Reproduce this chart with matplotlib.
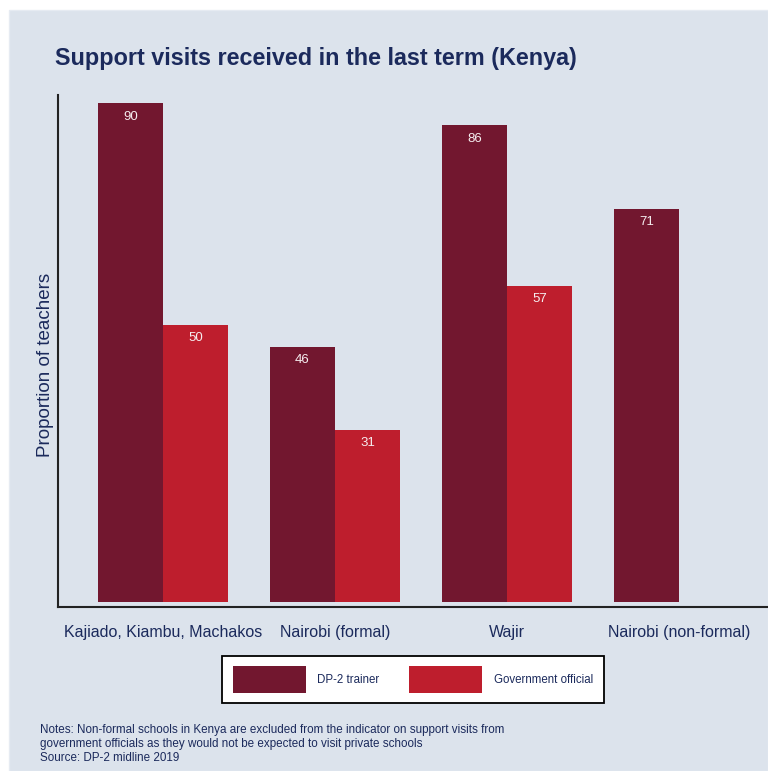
import matplotlib
matplotlib.use('Agg')
import matplotlib.pyplot as plt
from matplotlib.patches import Rectangle
import numpy as np

plt.rcParams['font.family'] = ['Liberation Sans', 'DejaVu Sans']

regions = ['Kajiado, Kiambu, Machakos', 'Nairobi (formal)', 'Wajir', 'Nairobi (non-formal)']
dp2_trainer = [90, 46, 86, 71]
gov_official = [50, 31, 57, None]
series_names = ['DP-2 trainer', 'Government official']

navy = '#1b2a5c'
c_dp = '#72172f'
c_gov = '#be1e2d'
bg = '#dce3ec'

fig = plt.figure(figsize=(7.68, 7.71), dpi=100, facecolor='white')
fig.patches.append(Rectangle((9/768, 0), 1 - 9/768, 1 - 10/771, transform=fig.transFigure,
                             facecolor=bg, edgecolor='#e6ebf2', lw=1, zorder=-10))

ax = fig.add_axes([58/768, 1 - 607/771, 1 - 58/768, (607 - 95)/771])
ax.set_facecolor('none')

x = np.arange(1, len(regions) + 1)
w = 0.377
gx = [xi for xi, v in zip(x, gov_official) if v is not None]
gv = [v for v in gov_official if v is not None]
b1 = ax.bar(x - w/2, dp2_trainer, w, color=c_dp, label=series_names[0])
b2 = ax.bar(np.array(gx) + w/2, gv, w, color=c_gov, label=series_names[1])

for bars in (b1, b2):
    for r in bars:
        ax.annotate(f'{r.get_height():g}', (r.get_x() + r.get_width()/2, r.get_height()),
                    xytext=(0, -9.5), textcoords='offset points', ha='center', va='center',
                    color='#f6eef0', fontsize=9.5)

ax.set_xlim(0.39, 4.517)
ax.set_ylim(-0.9, 91.5)
ax.set_xticks(x)
ax.set_xticklabels(regions, fontsize=11.5, color=navy)
ax.tick_params(axis='x', length=0, pad=13)
ax.set_yticks([])
for s in ['top', 'right']:
    ax.spines[s].set_visible(False)
for s in ['left', 'bottom']:
    ax.spines[s].set_linewidth(1.5)
    ax.spines[s].set_color('#222222')

fig.text(46/768, 1 - 365/771, 'Proportion of teachers', rotation=90, ha='center', va='center',
         fontsize=13.5, color=navy)

fig.text(55/768, 1 - 58/771, 'Support visits received in the last term (Kenya)',
         ha='left', va='center', fontsize=16.8, fontweight='bold', color=navy)

leg = fig.legend(handles=[b1, b2], labels=series_names, loc='center',
                 bbox_to_anchor=(413/768, 1 - 679.5/771), ncol=2, frameon=True,
                 fontsize=8.3, handlelength=6.3, handleheight=3.1, handletextpad=1.0,
                 columnspacing=2.6, borderpad=0.95, fancybox=False, labelcolor=navy,
                 framealpha=1)
leg.get_frame().set_edgecolor('black')
leg.get_frame().set_linewidth(1.3)

fig.text(40/768, 1 - 744/771,
         'Notes: Non-formal schools in Kenya are excluded from the indicator on support visits from\n'
         'government officials as they would not be expected to visit private schools\n'
         'Source: DP-2 midline 2019',
         ha='left', va='center', fontsize=8.4, color=navy, linespacing=1.17)

fig.savefig('out.png', dpi=100, facecolor='white')
